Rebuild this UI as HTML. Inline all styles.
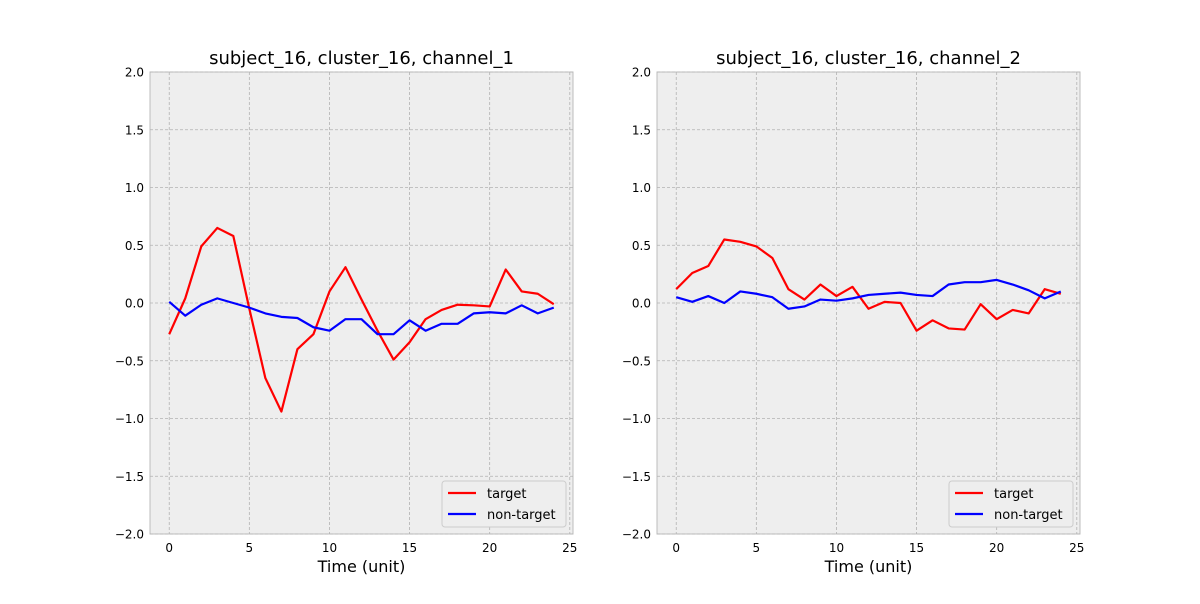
<!DOCTYPE html>
<html><head><meta charset="utf-8"><style>
body{margin:0;background:#fff;font-family:"DejaVu Sans","Liberation Sans",sans-serif}
</style></head><body>
<svg id="chart" width="1200" height="600" xmlns="http://www.w3.org/2000/svg" font-family="DejaVu Sans, Liberation Sans, sans-serif"></svg>
<script>
const xValues=[0,1,2,3,4,5,6,7,8,9,10,11,12,13,14,15,16,17,18,19,20,21,22,23,24];
const ch1Target=[-0.27,0.04,0.49,0.65,0.58,-0.05,-0.65,-0.94,-0.40,-0.27,0.10,0.31,0.03,-0.24,-0.49,-0.34,-0.14,-0.06,-0.015,-0.02,-0.03,0.29,0.10,0.08,-0.01];
const ch1NonTarget=[0.01,-0.11,-0.015,0.04,0,-0.04,-0.09,-0.12,-0.13,-0.21,-0.24,-0.14,-0.14,-0.27,-0.27,-0.15,-0.24,-0.18,-0.18,-0.09,-0.08,-0.09,-0.02,-0.09,-0.04];
const ch2Target=[0.12,0.26,0.32,0.55,0.53,0.49,0.39,0.12,0.03,0.16,0.06,0.14,-0.05,0.01,0,-0.24,-0.15,-0.22,-0.23,-0.01,-0.14,-0.06,-0.09,0.12,0.08];
const ch2NonTarget=[0.05,0.01,0.06,0,0.1,0.08,0.05,-0.05,-0.03,0.03,0.02,0.04,0.07,0.08,0.09,0.07,0.06,0.16,0.18,0.18,0.20,0.16,0.11,0.04,0.1];
const xTicks=[0,5,10,15,20,25];
const yTicks=[-2.0,-1.5,-1.0,-0.5,0.0,0.5,1.0,1.5,2.0];
const titles=["subject_16, cluster_16, channel_1","subject_16, cluster_16, channel_2"];
const NS="http://www.w3.org/2000/svg";
const svg=document.getElementById('chart');
function mk(tag,attrs,parent){const e=document.createElementNS(NS,tag);for(const k in attrs)e.setAttribute(k,attrs[k]);(parent||svg).appendChild(e);return e;}
const panels=[{x0:150,series:[ch1Target,ch1NonTarget]},{x0:657,series:[ch2Target,ch2NonTarget]}];
const W=423,plotTop=72,H=462,xmin=-1.2,xmax=25.2,ymin=-2,ymax=2;
panels.forEach((p,pi)=>{
  const g=mk('g',{});
  
  
  const sx=v=>p.x0+(v-xmin)/(xmax-xmin)*W;
  const sy=v=>plotTop+(ymax-v)/(ymax-ymin)*H;
  const bg=mk('rect',{x:p.x0,y:plotTop,width:W,height:H,fill:'#eeeeee',stroke:'#bcbcbc','stroke-width':1},g);
  
  
  xTicks.forEach(t=>{const x=sx(t);
    mk('line',{x1:x,x2:x,y1:plotTop,y2:plotTop+H,stroke:'#b2b2b2','stroke-width':0.8,'stroke-dasharray':'3,2'},g);
    const tl=mk('text',{x:x,y:plotTop+H+18,'text-anchor':'middle','font-size':12,fill:'#000'},g);tl.textContent=t;
    
    
  });
  yTicks.forEach(t=>{const y=sy(t);
    mk('line',{x1:p.x0,x2:p.x0+W,y1:y,y2:y,stroke:'#b2b2b2','stroke-width':0.8,'stroke-dasharray':'3,2'},g);
    const tl=mk('text',{x:p.x0-6,y:y+4.5,'text-anchor':'end','font-size':12,fill:'#000'},g);tl.textContent=t.toFixed(1).replace('-','\u2212');
    
    
  });
  const colors=['#ff0000','#0000ff'];
  p.series.forEach((s,si)=>{
    const pl=mk('polyline',{points:s.map((v,i)=>sx(xValues[i])+','+sy(v)).join(' '),fill:'none',stroke:colors[si],'stroke-width':2.2,'stroke-linejoin':'round'},g);
    
    
  });
  const t=mk('text',{x:p.x0+W/2,y:64,'text-anchor':'middle','font-size':18,fill:'#000'},g);t.textContent=titles[pi];
  
  
  const xl=mk('text',{x:p.x0+W/2,y:572,'text-anchor':'middle','font-size':16,fill:'#000'},g);xl.textContent='Time (unit)';
  
  
  const lg=mk('g',{},g);
  
  
  const lx=p.x0+W-131;
  mk('rect',{x:lx,y:481,width:124,height:46,rx:3,fill:'#eeeeee',stroke:'#cccccc'},lg);
  ['target','non-target'].forEach((n,i)=>{
    const y=493+i*21;
    mk('line',{x1:lx+6,x2:lx+34,y1:y,y2:y,stroke:colors[i],'stroke-width':2.2},lg);
    const lt=mk('text',{x:lx+45,y:y+5,'font-size':13,fill:'#000'},lg);lt.textContent=n;
    
    
  });
});
</script>
</body></html>
